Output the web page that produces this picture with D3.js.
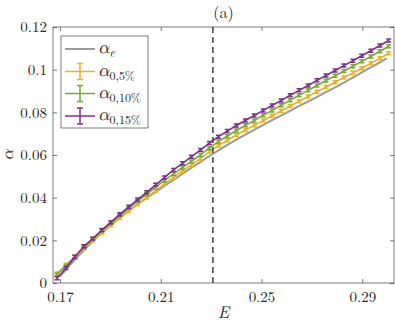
<!DOCTYPE html>
<html><head><meta charset="utf-8">
<script src="https://cdn.jsdelivr.net/npm/d3@7/dist/d3.min.js"></script>
<style>body{margin:0;background:#fff}svg{display:block}</style>
</head><body><svg id="c" width="395" height="324"></svg>
<script>
// ---- data ----
const xTicks = [0.17, 0.21, 0.25, 0.29];
const yTicks = [0, 0.02, 0.04, 0.06, 0.08, 0.10, 0.12];
const yTickLabels = ["0", "0.02", "0.04", "0.06", "0.08", "0.1", "0.12"];
const dashedE = 0.2307;

const Ee = [0.1700,0.1750,0.1800,0.1850,0.1900,0.1950,0.2000,0.2050,0.2100,0.2150,0.2200,0.2250,0.2300,0.2350,0.2400,0.2450,0.2500,0.2550,0.2600,0.2650,0.2700,0.2750,0.2800,0.2850,0.2900,0.2950,0.2997];
const alphaE = [0.0030,0.0098,0.0160,0.0218,0.0270,0.0318,0.0362,0.0403,0.0443,0.0483,0.0523,0.0562,0.0600,0.0637,0.0672,0.0705,0.0737,0.0768,0.0799,0.0830,0.0860,0.0891,0.0922,0.0955,0.0988,0.1021,0.1053];

const E0 = [0.1688,0.1724,0.1759,0.1795,0.1830,0.1866,0.1902,0.1937,0.1973,0.2008,0.2044,0.2080,0.2115,0.2151,0.2186,0.2222,0.2258,0.2293,0.2329,0.2364,0.2400,0.2436,0.2471,0.2507,0.2542,0.2578,0.2614,0.2649,0.2685,0.2720,0.2756,0.2792,0.2827,0.2863,0.2898,0.2934,0.2970,0.3005];
const alpha5 = [0.0045,0.0085,0.0124,0.0163,0.0199,0.0236,0.0271,0.0305,0.0338,0.0370,0.0401,0.0433,0.0465,0.0496,0.0525,0.0554,0.0584,0.0615,0.0644,0.0669,0.0694,0.0717,0.0739,0.0762,0.0784,0.0807,0.0830,0.0852,0.0874,0.0897,0.0919,0.0941,0.0963,0.0985,0.1007,0.1030,0.1053,0.1077];
const alpha10 = [0.0040,0.0080,0.0124,0.0168,0.0206,0.0245,0.0281,0.0316,0.0350,0.0384,0.0416,0.0449,0.0481,0.0512,0.0541,0.0570,0.0601,0.0633,0.0663,0.0689,0.0715,0.0739,0.0762,0.0786,0.0809,0.0833,0.0857,0.0880,0.0903,0.0926,0.0949,0.0971,0.0994,0.1016,0.1039,0.1062,0.1086,0.1110];
const alpha15 = [0.0022,0.0070,0.0122,0.0172,0.0208,0.0248,0.0285,0.0322,0.0357,0.0391,0.0425,0.0460,0.0495,0.0530,0.0561,0.0592,0.0624,0.0656,0.0686,0.0712,0.0738,0.0762,0.0785,0.0809,0.0832,0.0856,0.0880,0.0903,0.0926,0.0950,0.0973,0.0996,0.1019,0.1042,0.1065,0.1089,0.1113,0.1137];
const errHalf = [0.0007, 0.0007, 0.0007];

const colors = {e:"#9a9a9a", s5:"#EDB120", s10:"#77AC30", s15:"#7E2F8E"};

// ---- layout ----
const FF = "Latin Modern Roman, Liberation Serif, serif";
const FM = "Latin Modern Math, Latin Modern Roman, Liberation Serif, serif";
const svg = d3.select("#c");
const L = 53, R = 394, T = 27, B = 283;
const x = d3.scaleLinear().domain([0.16722, 0.30259]).range([L, R]);
const y = d3.scaleLinear().domain([0, 0.12]).range([B, T]);

const axC = "#262626";
const gx = svg.append("g").attr("transform", `translate(0,${B})`)
  .call(d3.axisBottom(x).tickValues(xTicks).tickSizeInner(-4).tickSizeOuter(0).tickPadding(8).tickFormat(d3.format(".2f")));
const gxt = svg.append("g").attr("transform", `translate(0,${T})`)
  .call(d3.axisTop(x).tickValues(xTicks).tickSizeInner(-4).tickSizeOuter(0).tickFormat(""));
const gy = svg.append("g").attr("transform", `translate(${L},0)`)
  .call(d3.axisLeft(y).tickValues(yTicks).tickSizeInner(-4).tickSizeOuter(0).tickPadding(6).tickFormat((d,i)=>yTickLabels[i]));
const gyr = svg.append("g").attr("transform", `translate(${R},0)`)
  .call(d3.axisRight(y).tickValues(yTicks).tickSizeInner(-4).tickSizeOuter(0).tickFormat(""));
[gx,gxt,gy,gyr].forEach(g=>{
  g.attr("font-family", FF);
  g.select(".domain").remove();
  g.selectAll(".tick line").attr("stroke", axC).attr("stroke-width", 0.6);
  g.selectAll("text").attr("font-size", 15).attr("fill", axC).attr("font-family", FF);
});

const clip = svg.append("clipPath").attr("id","cp").append("rect").attr("x",L).attr("y",T).attr("width",R-L).attr("height",B-T);
const plot = svg.append("g").attr("clip-path","url(#cp)");

const lineGen = d3.line().x(d=>x(d[0])).y(d=>y(d[1]));
plot.append("path").datum(Ee.map((e,i)=>[e, alphaE[i]]))
  .attr("d", lineGen).attr("fill","none").attr("stroke", colors.e).attr("stroke-width", 2);

const series = [
  {vals: alpha5, c: colors.s5, err: errHalf[0]},
  {vals: alpha10, c: colors.s10, err: errHalf[1]},
  {vals: alpha15, c: colors.s15, err: errHalf[2]}
];
series.forEach(s=>{
  const pts = E0.map((e,i)=>[e, s.vals[i]]);
  plot.append("path").datum(pts).attr("d", lineGen).attr("fill","none")
    .attr("stroke", s.c).attr("stroke-width", 1.6);
  const g = plot.append("g").attr("stroke", s.c).attr("stroke-width", 1.5).attr("fill","none");
  pts.forEach(p=>{
    const cx = x(p[0]), y1 = y(p[1]+s.err), y2 = y(p[1]-s.err);
    g.append("path").attr("d", `M${cx},${y1}V${y2}M${cx-2.5},${y1}H${cx+2.5}M${cx-2.5},${y2}H${cx+2.5}`);
  });
});

svg.append("line").attr("x1", x(dashedE)).attr("x2", x(dashedE)).attr("y1", T).attr("y2", B)
  .attr("stroke", "#404040").attr("stroke-width", 1.5).attr("stroke-dasharray", "6,4");

svg.append("rect").attr("x", L).attr("y", T).attr("width", R-L).attr("height", B-T)
  .attr("fill","none").attr("stroke", axC).attr("stroke-width", 0.6);

svg.append("text").attr("x", (L+R)/2).attr("y", 18).attr("text-anchor","middle").attr("font-size", 16).attr("fill", axC).attr("font-family", FF).text("(a)");
svg.append("text").attr("x", (L+R)/2).attr("y", 318).attr("text-anchor","middle").attr("font-size", 17).attr("font-style","italic").attr("fill", axC).attr("font-family", FF).text("E");
svg.append("text").attr("transform", `translate(13,${(T+B)/2}) rotate(-90)`).attr("text-anchor","middle")
  .attr("font-size", 17).attr("font-style","italic").attr("fill", axC).attr("font-family", FM).text("α");

const lg = svg.append("g");
lg.append("rect").attr("x", 61).attr("y", 36).attr("width", 87).attr("height", 92)
  .attr("fill", "#fff").attr("stroke", "#262626").attr("stroke-width", 0.6);
const legItems = [
  {c: colors.e, sub: "e", err: false, y: 49, subItalic: true},
  {c: colors.s5, sub: "0,5%", err: true, y: 71.5},
  {c: colors.s10, sub: "0,10%", err: true, y: 93.5},
  {c: colors.s15, sub: "0,15%", err: true, y: 116}
];
legItems.forEach(it=>{
  lg.append("line").attr("x1", 65).attr("x2", 95).attr("y1", it.y).attr("y2", it.y)
    .attr("stroke", it.c).attr("stroke-width", it.err ? 1.5 : 2);
  if (it.err) {
    lg.append("path").attr("d", `M80,${it.y-8}V${it.y+8}M77,${it.y-8}H83M77,${it.y+8}H83`)
      .attr("stroke", it.c).attr("stroke-width", 1.5).attr("fill","none");
  }
  const t = lg.append("text").attr("x", 98).attr("y", it.y + 4).attr("font-size", 18).attr("fill", axC).attr("font-family", FM);
  t.append("tspan").attr("font-style","italic").text("α");
  t.append("tspan").attr("font-size", 12).attr("dy", 4).attr("font-family", FF).attr("font-style", it.subItalic ? "italic" : "normal").text(it.sub);
});
</script></body></html>
